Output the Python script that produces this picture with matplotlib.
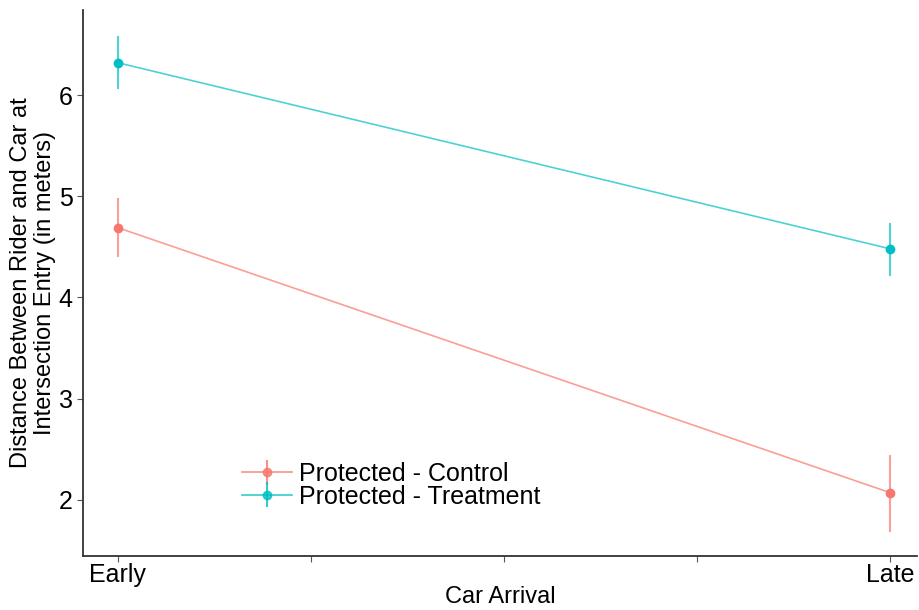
import numpy as np
import matplotlib.pyplot as plt

plt.rcParams['font.family'] = ['Liberation Sans', 'DejaVu Sans']

# Car arrival groups and estimated means with error bar ends
arrival = ['Early', 'Late']
arrival_pos = [0.0, 1.0]
control_mean = [4.69, 2.07]
control_low = [4.40, 1.68]
control_high = [4.98, 2.44]
treatment_mean = [6.32, 4.48]
treatment_low = [6.06, 4.21]
treatment_high = [6.58, 4.74]

series = [
    ('Protected - Control', control_mean, control_low, control_high, '#F8766D'),
    ('Protected - Treatment', treatment_mean, treatment_low, treatment_high, '#00BFC4'),
]

fig = plt.figure(figsize=(9.19, 6.10), dpi=100)
ax = fig.add_axes([0.0903, 0.0885, 0.908, 0.895])

for name, mean, low, high, col in series:
    mean = np.array(mean)
    yerr = np.vstack([mean - np.array(low), np.array(high) - mean])
    ax.plot(arrival_pos, mean, color=col, lw=1.2, alpha=0.7, zorder=2)
    ax.errorbar(arrival_pos, mean, yerr=yerr, fmt='none', ecolor=col, elinewidth=1.5,
                alpha=0.7, capsize=0, zorder=2)
    ax.plot(arrival_pos, mean, 'o', color=col, ms=6, zorder=3)
    # legend handle: line + bar + point
    ax.errorbar([], [], yerr=[], fmt='-o', color=col, ms=6, lw=1.2, elinewidth=1.5,
                alpha=0.8, label=name)

ax.set_xlim(-0.045, 1.035)
ax.set_ylim(1.445, 6.84)
ax.set_xticks([0, 0.25, 0.5, 0.75, 1.0])
ax.set_xticklabels(['Early', '', '', '', 'Late'])
ax.set_yticks([2, 3, 4, 5, 6])
ax.tick_params(axis='both', labelsize=18, length=4, width=0.8, color='#555555', labelcolor='black')
ax.tick_params(axis='x', pad=1)

for s in ['top', 'right']:
    ax.spines[s].set_visible(False)
for s in ['left', 'bottom']:
    ax.spines[s].set_linewidth(1.3)
    ax.spines[s].set_color('#333333')

ax.set_xlabel('Car Arrival', fontsize=17, labelpad=-1)
ax.set_ylabel('Distance Between Rider and Car at\nIntersection Entry (in meters)', fontsize=17,
              labelpad=2, linespacing=1.1)

ax.legend(loc='lower left', bbox_to_anchor=(0.176, 0.064), frameon=False, fontsize=18,
          handlelength=2.0, handletextpad=0.25, labelspacing=-0.05, borderpad=0)

fig.savefig('out.png', dpi=100)
